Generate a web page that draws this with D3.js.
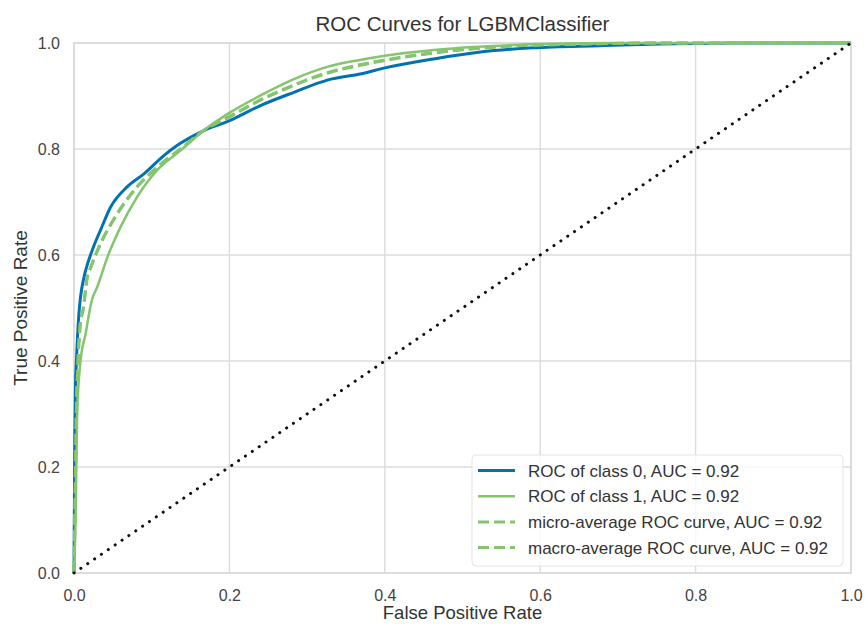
<!DOCTYPE html>
<html>
<head>
<meta charset="utf-8">
<script src="https://cdn.jsdelivr.net/npm/d3@7"></script>
<style>
    body { margin: 0; background: #fff; }
    #chart text { font-family: "Liberation Sans", Arial, sans-serif; fill: #444; }
</style>
</head>
<body>
<div id="chart"></div>
<script>
// ROC data
const class0Fpr = [0, 0.001, 0.002, 0.003, 0.006, 0.013, 0.015, 0.025, 0.035, 0.047, 0.068, 0.090, 0.116, 0.133, 0.163, 0.201, 0.240, 0.283, 0.326, 0.370, 0.403, 0.463, 0.523, 0.591, 0.677, 0.754, 0.850, 1];
const class0Tpr = [0, 0.250, 0.358, 0.396, 0.483, 0.559, 0.571, 0.615, 0.650, 0.690, 0.728, 0.753, 0.788, 0.807, 0.832, 0.854, 0.882, 0.907, 0.930, 0.942, 0.954, 0.970, 0.983, 0.991, 0.995, 0.998, 1, 1];

const class1Fpr = [0, 0.002, 0.003, 0.004, 0.008, 0.015, 0.023, 0.030, 0.043, 0.060, 0.081, 0.107, 0.137, 0.167, 0.201, 0.240, 0.283, 0.326, 0.368, 0.400, 0.463, 0.548, 0.600, 0.700, 1];
const class1Tpr = [0, 0.100, 0.200, 0.295, 0.395, 0.452, 0.515, 0.540, 0.596, 0.653, 0.709, 0.760, 0.797, 0.835, 0.869, 0.901, 0.932, 0.955, 0.968, 0.976, 0.987, 0.995, 0.998, 1, 1];

const microFpr = [0, 0.002, 0.003, 0.005, 0.008, 0.012, 0.017, 0.021, 0.032, 0.053, 0.077, 0.107, 0.137, 0.167, 0.201, 0.240, 0.283, 0.326, 0.368, 0.400, 0.463, 0.548, 0.650, 0.750, 1];
const microTpr = [0, 0.200, 0.300, 0.395, 0.470, 0.500, 0.559, 0.575, 0.615, 0.672, 0.722, 0.766, 0.800, 0.835, 0.861, 0.892, 0.920, 0.943, 0.958, 0.967, 0.981, 0.993, 0.998, 1, 1];

const macroFpr = [0, 0.002, 0.003, 0.005, 0.008, 0.012, 0.017, 0.021, 0.032, 0.053, 0.077, 0.107, 0.137, 0.167, 0.201, 0.240, 0.283, 0.326, 0.368, 0.400, 0.463, 0.548, 0.650, 0.750, 1];
const macroTpr = [0, 0.195, 0.298, 0.392, 0.468, 0.498, 0.557, 0.574, 0.614, 0.671, 0.721, 0.765, 0.800, 0.835, 0.862, 0.893, 0.921, 0.944, 0.959, 0.968, 0.982, 0.993, 0.998, 1, 1];

const seriesNames = [
    "ROC of class 0, AUC = 0.92",
    "ROC of class 1, AUC = 0.92",
    "micro-average ROC curve, AUC = 0.92",
    "macro-average ROC curve, AUC = 0.92"
];
const tickValues = [0, 0.2, 0.4, 0.6, 0.8, 1.0];

const series = [
    { name: seriesNames[0], fpr: class0Fpr, tpr: class0Tpr, color: "#0072b2", dash: null, width: 3 },
    { name: seriesNames[1], fpr: class1Fpr, tpr: class1Tpr, color: "#84c56e", dash: null, width: 2.5 },
    { name: seriesNames[2], fpr: microFpr, tpr: microTpr, color: "#84c56e", dash: "11,5", width: 3 },
    { name: seriesNames[3], fpr: macroFpr, tpr: macroTpr, color: "#84c56e", dash: "11,5", width: 3 }
];

const W = 865, H = 625;
const margin = { top: 43, right: 14, bottom: 52, left: 74 };
const width = W - margin.left - margin.right;
const height = H - margin.top - margin.bottom;

const svg = d3.select("#chart")
    .append("svg")
    .attr("width", W)
    .attr("height", H);

const g = svg.append("g")
    .attr("transform", `translate(${margin.left},${margin.top})`);

const x = d3.scaleLinear().domain([0, 1]).range([0, width]);
const y = d3.scaleLinear().domain([0, 1]).range([height, 0]);

// Grid
g.append("g")
    .selectAll("line.vgrid")
    .data(tickValues.slice(1, -1))
    .enter()
    .append("line")
    .attr("x1", d => x(d)).attr("x2", d => x(d))
    .attr("y1", 0).attr("y2", height)
    .attr("stroke", "#dcdcdc")
    .attr("stroke-width", 1.4);

g.append("g")
    .selectAll("line.hgrid")
    .data(tickValues.slice(1, -1))
    .enter()
    .append("line")
    .attr("x1", 0).attr("x2", width)
    .attr("y1", d => y(d)).attr("y2", d => y(d))
    .attr("stroke", "#dcdcdc")
    .attr("stroke-width", 1.4);

// Frame
g.append("rect")
    .attr("width", width)
    .attr("height", height)
    .attr("fill", "none")
    .attr("stroke", "#d4d4d4")
    .attr("stroke-width", 1.6);

// Axes
const xAxis = g.append("g")
    .attr("transform", `translate(0,${height})`)
    .call(d3.axisBottom(x).tickValues(tickValues).tickSize(0).tickPadding(17).tickFormat(d3.format(".1f")));
const yAxis = g.append("g")
    .call(d3.axisLeft(y).tickValues(tickValues).tickSize(0).tickPadding(14).tickFormat(d3.format(".1f")));

[xAxis, yAxis].forEach(a => {
    a.select(".domain").remove();
    a.selectAll("text").style("font-size", "16px").style("fill", "#444");
});

// Curves
const line = d3.line()
    .x(d => x(d[0]))
    .y(d => y(d[1]))
    .curve(d3.curveMonotoneX);

series.forEach(s => {
    const pts = s.fpr.map((f, i) => [f, s.tpr[i]]);
    g.append("path")
        .datum(pts)
        .attr("d", line)
        .attr("fill", "none")
        .attr("stroke", s.color)
        .attr("stroke-width", s.width)
        .attr("stroke-linejoin", "round")
        .attr("stroke-dasharray", s.dash);
});

// Chance line
g.append("path")
    .datum([[0, 0], [1, 1]])
    .attr("d", d3.line().x(d => x(d[0])).y(d => y(d[1])))
    .attr("fill", "none")
    .attr("stroke", "#111")
    .attr("stroke-width", 3)
    .attr("stroke-linecap", "round")
    .attr("stroke-dasharray", "0.1,8.2");

// Legend
const legend = svg.append("g")
    .attr("transform", "translate(472,455)");

legend.append("rect")
    .attr("width", 371)
    .attr("height", 111)
    .attr("rx", 4)
    .attr("fill", "#fff")
    .attr("fill-opacity", 0.8)
    .attr("stroke", "#e4e4e4")
    .attr("stroke-width", 1);

const items = legend.selectAll(".item")
    .data(series)
    .enter()
    .append("g")
    .attr("class", "item")
    .attr("transform", (d, i) => `translate(0,${15.5 + i * 25.7})`);

items.append("line")
    .attr("x1", 6).attr("x2", 43)
    .attr("stroke", d => d.color)
    .attr("stroke-width", d => d.width)
    .attr("stroke-dasharray", d => d.dash);

items.append("text")
    .attr("x", 56)
    .attr("dy", "0.36em")
    .style("font-size", "17px")
    .style("fill", "#333")
    .text(d => d.name);

// Title and labels
svg.append("text")
    .attr("x", margin.left + width / 2)
    .attr("y", 31)
    .attr("text-anchor", "middle")
    .style("font-size", "20.5px")
    .style("fill", "#333")
    .text("ROC Curves for LGBMClassifier");

svg.append("text")
    .attr("x", margin.left + width / 2)
    .attr("y", 619)
    .attr("text-anchor", "middle")
    .style("font-size", "18.5px")
    .style("fill", "#333")
    .text("False Positive Rate");

svg.append("text")
    .attr("transform", `translate(26.5,${margin.top + height / 2}) rotate(-90)`)
    .attr("text-anchor", "middle")
    .style("font-size", "19px")
    .style("fill", "#333")
    .text("True Positive Rate");
</script>
</body>
</html>
